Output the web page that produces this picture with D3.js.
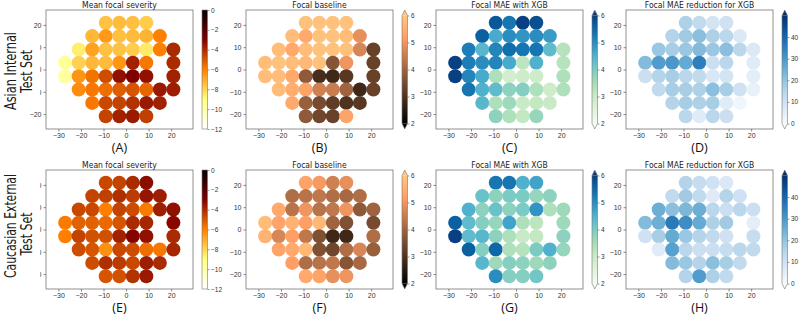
<!DOCTYPE html>
<html>
<head>
<meta charset="utf-8">
<script src="https://cdn.jsdelivr.net/npm/d3@7"></script>
<style>
  body { margin: 0; background: #fff; }
  svg { display: block; font-family: "Liberation Sans Narrow", "DejaVu Sans Condensed", "Liberation Sans", sans-serif; }
</style>
</head>
<body>
<svg id="chart" width="800" height="317"></svg>
<script>
// 24-2 test locations in degrees, row by row from the top (blind spot left out)
const rowY = [21, 15, 9, 3, -3, -9, -15, -21];
const rowX = [
  [-9, -3, 3, 9],
  [-15, -9, -3, 3, 9, 15],
  [-21, -15, -9, -3, 3, 9, 15, 21],
  [-27, -21, -15, -9, -3, 3, 9, 21],
  [-27, -21, -15, -9, -3, 3, 9, 21],
  [-21, -15, -9, -3, 3, 9, 15, 21],
  [-15, -9, -3, 3, 9, 15],
  [-9, -3, 3, 9]
];

// values, same order as the locations above
const sevAsian = [
  -7.6, -7.4, -7.5, -7.8,
  -7.3, -6.6, -7.5, -7.4, -7.2, -6.0,
  -8.6, -6.8, -7.6, -7.6, -7.8, -8.5, -6.0, -4.0,
  -9.6, -7.9, -7.3, -7.4, -6.5, -3.8, -5.8, -4.0,
  -9.7, -6.5, -5.7, -4.8, -3.4, -3.0, -3.4, -3.8,
  -6.3, -5.8, -5.6, -5.2, -5.0, -5.4, -3.6, -3.7,
  -5.8, -4.7, -4.6, -4.2, -3.6, -3.8,
  -4.6, -3.8, -3.6, -4.5
];
const baseAsian = [
  5.9, 5.9, 5.9, 5.9,
  5.8, 5.4, 5.9, 5.9, 5.8, 4.9,
  5.8, 5.4, 5.8, 5.9, 5.9, 5.9, 4.7, 3.3,
  5.8, 5.9, 5.8, 5.7, 5.9, 3.7, 5.0, 3.3,
  5.8, 5.8, 5.4, 3.8, 2.9, 2.8, 3.1, 3.3,
  5.8, 5.5, 5.3, 4.6, 4.5, 4.0, 2.8, 3.3,
  5.4, 3.9, 3.5, 3.2, 3.0, 3.1,
  3.8, 3.4, 3.3, 5.3
];
const maeAsian = [
  5.7, 5.3, 6.0, 5.8,
  5.6, 4.6, 5.0, 4.9, 5.0, 4.8,
  5.2, 4.4, 5.1, 5.4, 5.3, 5.3, 4.3, 3.3,
  6.0, 5.2, 5.0, 5.1, 4.6, 3.2, 4.5, 3.3,
  6.0, 5.1, 4.6, 3.4, 2.8, 2.9, 2.9, 3.4,
  5.3, 4.5, 4.3, 3.8, 3.9, 3.4, 2.9, 3.4,
  4.4, 3.4, 3.6, 3.0, 3.1, 3.0,
  3.8, 3.4, 3.1, 3.7
];
const redAsian = [
  16, 13, 9, 10,
  15, 18, 21, 16, 14, 7,
  19, 17, 19, 22, 19, 21, 14, 7,
  22, 29, 30, 26, 35, 11, 14, 6,
  11, 15, 17, 14, 13, 8, 9, 5,
  13, 17, 17, 16, 21, 17, 10, 4,
  15, 17, 16, 17, 6, 2,
  14, 6, 14, 11
];
const sevCauc = [
  -4.7, -4.6, -4.0, -3.3,
  -4.6, -4.5, -4.1, -4.4, -3.5, -3.7,
  -4.7, -4.7, -6.0, -4.6, -4.8, -5.9, -3.7, -3.4,
  -5.9, -5.3, -5.3, -5.5, -5.0, -4.0, -3.9, -3.2,
  -6.0, -4.6, -4.9, -4.9, -3.8, -3.1, -3.4, -4.0,
  -4.8, -5.0, -6.4, -4.7, -4.8, -5.6, -5.8, -3.9,
  -4.8, -4.1, -4.4, -4.7, -3.7, -4.0,
  -5.0, -4.9, -4.2, -3.6
];
const baseCauc = [
  5.3, 5.1, 4.6, 4.9,
  4.2, 4.3, 4.4, 4.2, 4.1, 4.2,
  5.4, 4.3, 5.0, 4.3, 4.4, 5.0, 3.8, 4.0,
  5.8, 5.3, 5.6, 5.2, 5.7, 4.0, 3.6, 3.5,
  5.6, 4.7, 5.2, 4.4, 3.6, 2.8, 2.8, 4.2,
  5.3, 5.4, 5.7, 3.6, 3.4, 4.2, 4.7, 3.9,
  5.2, 4.2, 4.3, 4.4, 3.7, 4.1,
  5.4, 5.3, 4.9, 5.0
];
const maeCauc = [
  5.3, 5.3, 4.5, 4.7,
  4.2, 3.8, 4.0, 4.0, 3.7, 3.8,
  4.5, 3.8, 4.2, 3.8, 4.0, 4.9, 3.4, 3.6,
  5.6, 4.3, 3.9, 3.7, 4.7, 3.4, 3.2, 3.6,
  6.0, 4.3, 4.4, 3.8, 3.4, 3.0, 3.1, 3.8,
  5.6, 3.9, 5.5, 3.4, 3.3, 4.0, 4.5, 3.7,
  4.4, 3.6, 3.9, 3.8, 3.6, 3.8,
  5.0, 3.9, 3.9, 4.1
];
const redCauc = [
  15, 12, 10, 7,
  13, 18, 13, 6, 15, 10,
  25, 21, 23, 25, 14, 11, 14, 11,
  22, 25, 36, 32, 26, 16, 18, 5,
  10, 17, 26, 19, 15, 13, 10, 12,
  6, 28, 14, 11, 11, 12, 14, 13,
  22, 19, 15, 21, 17, 13,
  15, 29, 16, 13
];

const rowValues = [
  [sevAsian, baseAsian, maeAsian, redAsian],
  [sevCauc, baseCauc, maeCauc, redCauc]
];
const titles = ["Mean focal severity", "Focal baseline", "Focal MAE with XGB", "Focal MAE reduction for XGB"];
const letters = [["(A)", "(B)", "(C)", "(D)"], ["(E)", "(F)", "(G)", "(H)"]];
const rowNames = [["Asian Internal", "Test Set"], ["Caucasian External", "Test Set"]];
const xTicks = [-30, -20, -10, 0, 10, 20];
const yTicks = [20, 10, 0, -10, -20];
const sevTicks = [0, -2, -4, -6, -8, -10, -12];
const maeTicks = [2, 3, 4, 5, 6];
const redTicks = [0, 10, 20, 30, 40];

// matplotlib colormaps
function clip(v) { return Math.max(0, Math.min(1, v)); }
const afmhotR = t => { let s = 1 - t; return d3.rgb(255 * clip(2 * s), 255 * clip(2 * s - 0.5), 255 * clip(2 * s - 1)) + ""; };
const copper = t => d3.rgb(255 * Math.min(1, 1.25 * t), 255 * 0.7812 * t, 255 * 0.4975 * t) + "";

const cmaps = [
  { interp: afmhotR, domain: [-12, 0], ticks: sevTicks, extend: false },
  { interp: copper, domain: [2, 6], ticks: maeTicks, extend: true },
  { interp: d3.interpolateGnBu, domain: [2, 6], ticks: maeTicks, extend: true },
  { interp: d3.interpolateBlues, domain: [0, 50], ticks: redTicks, extend: true }
];

let panelLeft = [46, 246, 436, 626],
  panelTop = [10, 170],
  panelW = 147, panelH = 119,
  xDomain = [-35.5, 29.7], yDomain = [-26.7, 26.7];

const points = rowY.flatMap((y, i) => rowX[i].map(x => ({ x: x, y: y })));
const svg = d3.select("#chart");
const defs = svg.append("defs");
const fmt = v => (v < 0 ? "\u2212" : "") + Math.abs(v);

rowValues.forEach((vals, r) => {
  vals.forEach((values, c) => drawPanel(values, r, c));
});

// row names, with a white backing that hides part of the first tick labels
const rowCenters = [[71, 71.5], [226, 234]];
const rowLens = [[78, 43], [104, 43]];
rowNames.forEach((lines, r) => {
  svg.append("rect")
    .attr("x", 0).attr("y", r ? 177 : 35)
    .attr("width", 40).attr("height", r ? 106 : 71)
    .attr("fill", "#fff");
  lines.forEach((txt, i) => {
    svg.append("text")
      .attr("transform", `translate(${i ? 32 : 16}, ${rowCenters[r][i]}) rotate(-90)`)
      .attr("text-anchor", "middle")
      .attr("font-size", 15.5)
      .attr("textLength", rowLens[r][i])
      .attr("lengthAdjust", "spacingAndGlyphs")
      .attr("fill", "#1a1a1a")
      .text(txt);
  });
});

function drawPanel(values, r, c) {
  let left = panelLeft[c], top = panelTop[r], cm = cmaps[c];
  let x = d3.scaleLinear().domain(xDomain).range([left, left + panelW]),
    y = d3.scaleLinear().domain(yDomain).range([top + panelH, top]),
    color = d3.scaleSequential(cm.interp).domain(cm.domain).clamp(true);
  let g = svg.append("g");
  let rad = x(3.1) - x(0);

  g.append("g").selectAll("circle")
    .data(points.map((p, i) => ({ x: p.x, y: p.y, v: values[i] })))
    .join("circle")
    .attr("cx", d => x(d.x))
    .attr("cy", d => y(d.y))
    .attr("r", rad)
    .attr("fill", d => color(d.v));

  g.append("rect")
    .attr("x", left).attr("y", top)
    .attr("width", panelW).attr("height", panelH)
    .attr("fill", "none").attr("stroke", "#777").attr("stroke-width", 0.8);

  let xa = g.append("g").attr("transform", `translate(0, ${top + panelH})`)
    .call(d3.axisBottom(x).tickValues(xTicks).tickFormat(fmt).tickSize(2.5).tickPadding(1.5));
  let ya = g.append("g").attr("transform", `translate(${left}, 0)`)
    .call(d3.axisLeft(y).tickValues(yTicks).tickFormat(fmt).tickSize(2.5).tickPadding(2));
  [xa, ya].forEach(a => {
    a.select(".domain").remove();
    a.selectAll("line").attr("stroke", "#555").attr("stroke-width", 0.7);
    a.selectAll("text").attr("font-size", 7).attr("fill", "#333");
  });

  g.append("text")
    .attr("x", left + panelW / 2).attr("y", top - 2.5)
    .attr("text-anchor", "middle")
    .attr("font-size", 8.5)
    .attr("fill", "#222")
    .text(titles[c]);

  g.append("text")
    .attr("x", left + panelW / 2).attr("y", top + panelH + 23)
    .attr("text-anchor", "middle")
    .attr("font-family", "'Open Sans', 'Noto Sans', sans-serif")
    .attr("font-size", 12.5)
    .attr("fill", "#111")
    .text(letters[r][c]);

  drawColorbar(g, cm, color, left + panelW + 9, top, `cb${r}${c}`);
}

function drawColorbar(g, cm, color, x0, top, id) {
  let w = 5.5, ext = cm.extend ? 5.5 : 0;
  let yb = top + panelH - ext, yt = top + ext;
  let s = d3.scaleLinear().domain(cm.domain).range([yb, yt]);

  let grad = defs.append("linearGradient").attr("id", id)
    .attr("x1", 0).attr("y1", 1).attr("x2", 0).attr("y2", 0);
  d3.range(0, 1.0001, 0.02).forEach(t => {
    grad.append("stop").attr("offset", t)
      .attr("stop-color", color(cm.domain[0] + t * (cm.domain[1] - cm.domain[0])));
  });

  g.append("rect").attr("x", x0).attr("y", yt).attr("width", w).attr("height", yb - yt)
    .attr("fill", `url(#${id})`);
  if (cm.extend) {
    g.append("path").attr("d", `M${x0},${yt}L${x0 + w / 2},${top}L${x0 + w},${yt}Z`)
      .attr("fill", color(cm.domain[1]));
    g.append("path").attr("d", `M${x0},${yb}L${x0 + w / 2},${top + panelH}L${x0 + w},${yb}Z`)
      .attr("fill", color(cm.domain[0]));
  }
  let outline = cm.extend
    ? `M${x0},${yb}L${x0},${yt}L${x0 + w / 2},${top}L${x0 + w},${yt}L${x0 + w},${yb}L${x0 + w / 2},${top + panelH}Z`
    : `M${x0},${yb}L${x0},${yt}L${x0 + w},${yt}L${x0 + w},${yb}Z`;
  g.append("path").attr("d", outline).attr("fill", "none").attr("stroke", "#777").attr("stroke-width", 0.6);

  let a = g.append("g").attr("transform", `translate(${x0 + w}, 0)`)
    .call(d3.axisRight(s).tickValues(cm.ticks).tickFormat(fmt).tickSize(2).tickPadding(1.5));
  a.select(".domain").remove();
  a.selectAll("line").attr("stroke", "#555").attr("stroke-width", 0.6);
  a.selectAll("text").attr("font-size", 6.5).attr("fill", "#333");
}
</script>
</body>
</html>
